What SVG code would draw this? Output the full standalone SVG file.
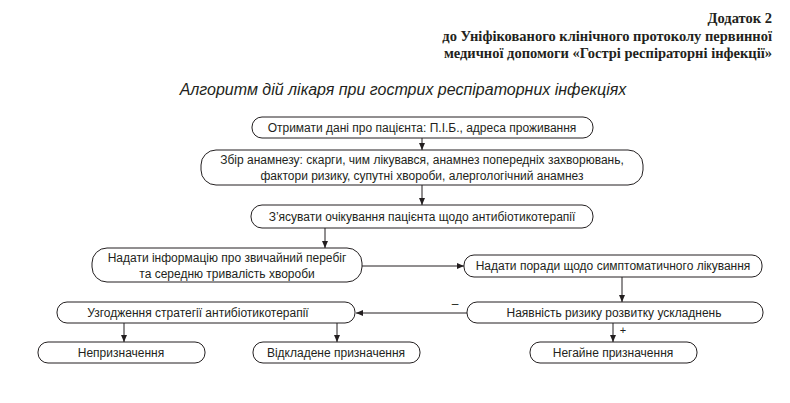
<svg xmlns="http://www.w3.org/2000/svg" width="790" height="403" viewBox="0 0 790 403">
<defs>
<marker id="ah" markerWidth="8" markerHeight="8" refX="7" refY="4" orient="auto" markerUnits="userSpaceOnUse">
<path d="M0,1 L7,4 L0,7 Z" fill="#231f20"/>
</marker>
<style>
.hd{font-family:"Liberation Serif",serif;font-weight:bold;font-size:14.5px;fill:#231f20;text-anchor:end}
.ti{font-family:"Liberation Sans",Arial,sans-serif;font-style:italic;font-size:16px;fill:#231f20;text-anchor:middle}
.bx{fill:#fff;stroke:#231f20;stroke-width:1}
.tx{font-family:"Liberation Sans",Arial,sans-serif;font-size:12px;fill:#231f20;text-anchor:middle}
.cn{fill:none;stroke:#231f20;stroke-width:1;marker-end:url(#ah)}
.ln{fill:none;stroke:#231f20;stroke-width:1}
</style>
</defs>
<rect width="790" height="403" fill="#fff"/>
<text class="hd" x="772" y="23">Додаток 2</text>
<text class="hd" x="772" y="41">до Уніфікованого клінічного протоколу первинної</text>
<text class="hd" x="772" y="58">медичної допомоги «Гострі респіраторні інфекції»</text>
<text class="ti" x="403" y="95">Алгоритм дій лікаря при гострих респіраторних інфекціях</text>

<g id="connectors">
<path class="cn" d="M422,138 V150"/>
<path class="cn" d="M422,185 V205"/>
<path class="cn" d="M325,228 V248"/>
<path class="cn" d="M362,266 H464"/>
<path class="cn" d="M622,277 V302"/>
<path class="cn" d="M467,313 H356"/>
<path class="cn" d="M613,323 V342"/>
<path class="cn" d="M124,323 V342"/>
<path class="cn" d="M337,323 V342"/>
<text class="tx" x="455" y="308">–</text>
<text class="tx" x="623" y="334" style="font-size:11px">+</text>
</g>

<g id="n1"><rect class="bx" x="252" y="117" width="341" height="21" rx="10"/>
<text class="tx" x="422" y="132">Отримати дані про пацієнта: П.І.Б., адреса проживання</text></g>

<g id="n2"><rect class="bx" x="201" y="150" width="442" height="35" rx="15"/>
<text class="tx" x="422" y="164">Збір анамнезу: скарги, чим лікувався, анамнез попередніх захворювань,</text>
<text class="tx" x="422" y="180">фактори ризику, супутні хвороби, алергологічний анамнез</text></g>

<g id="n3"><rect class="bx" x="251" y="205" width="342" height="23" rx="11"/>
<text class="tx" x="422" y="221">З’ясувати очікування пацієнта щодо антибіотикотерапії</text></g>

<g id="n4"><rect class="bx" x="92" y="248" width="270" height="34" rx="15"/>
<text class="tx" x="227" y="262">Надати інформацію про звичайний перебіг</text>
<text class="tx" x="227" y="278">та середню тривалість хвороби</text></g>

<g id="n5"><rect class="bx" x="464" y="255" width="298" height="22" rx="10"/>
<text class="tx" x="613" y="270">Надати поради щодо симптоматичного лікування</text></g>

<g id="n6"><rect class="bx" x="467" y="302" width="296" height="21" rx="10"/>
<text class="tx" x="614" y="317">Наявність ризику розвитку ускладнень</text></g>

<g id="n7"><rect class="bx" x="57" y="302" width="298" height="21" rx="10"/>
<text class="tx" x="198" y="317">Узгодження стратегії антибіотикотерапії</text></g>

<g id="n8"><rect class="bx" x="38" y="342" width="167" height="21" rx="10"/>
<text class="tx" x="121" y="357">Непризначення</text></g>

<g id="n9"><rect class="bx" x="253" y="342" width="167" height="21" rx="10"/>
<text class="tx" x="336" y="357">Відкладене призначення</text></g>

<g id="n10"><rect class="bx" x="530" y="342" width="167" height="21" rx="10"/>
<text class="tx" x="613" y="357">Негайне призначення</text></g>
</svg>
